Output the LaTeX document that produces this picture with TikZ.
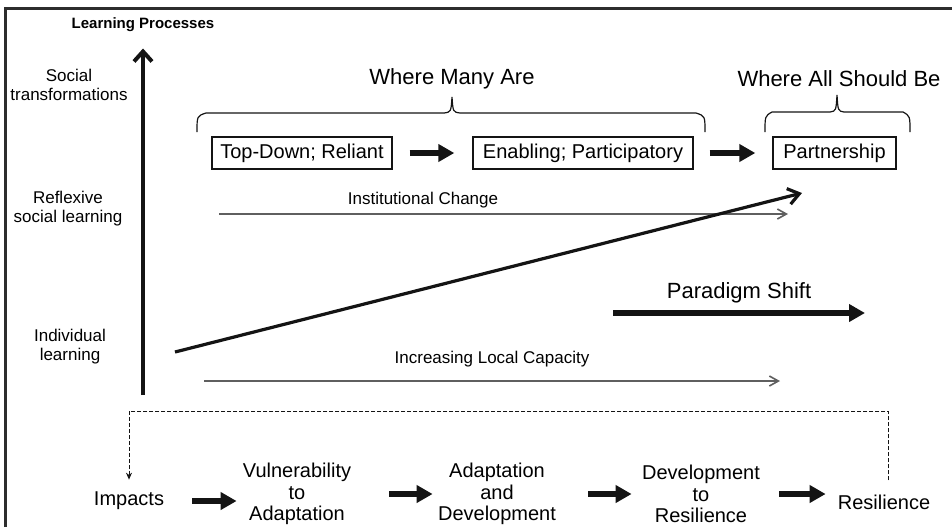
\documentclass[tikz,border=0pt]{standalone}
\usepackage{fontspec}
\setmainfont{Liberation Sans}
\usepackage{tikz}
\usetikzlibrary{positioning,arrows.meta}
\definecolor{ink}{RGB}{20,20,20}
\definecolor{faint}{RGB}{95,95,95}
\definecolor{edge}{RGB}{45,45,45}

\begin{document}
\begin{tikzpicture}[x=0.5pt,y=-0.5pt,
  stagebox/.style={draw=ink,line width=0.7pt,inner sep=0pt,minimum height=16pt,font=\fontsize{10}{12}\selectfont},
  stage/.style={inner sep=0pt,align=center,font=\fontsize{10}{10.75}\selectfont},
  levellabel/.style={align=center,font=\fontsize{8.5}{9.5}\selectfont},
  header/.style={font=\fontsize{11}{13}\selectfont},
  fatarrow/.style={ink,line width=3pt,-{Triangle[length=8pt,width=8.5pt]}},
  trendarrow/.style={faint,line width=0.8pt,-{Straight Barb[length=4.5pt,width=5pt]}},
  feedback/.style={ink,line width=0.5pt,dash pattern=on 2pt off 1pt}]
  \useasboundingbox (0,0) rectangle (952,527);
  \draw[edge,line width=1.5pt] (5,527) -- (5,8) -- (952,8);

  % learning axis
  \node[font=\bfseries\fontsize{7.5}{9}\selectfont] (lp) at (143,25) {Learning Processes};
  \coordinate (axbot) at (143,395);
  \draw[ink,line width=2pt,-{Straight Barb[length=5pt,width=9pt]},shorten >=4.7pt] (axbot) -- (lp);
  \node[levellabel] (social) at (69,85) {Social\\transformations};
  \node[levellabel] (reflex) at (68,209) {Reflexive\\social learning};
  \node[levellabel] (indiv) at (70,347) {Individual\\learning};

  % where many / all
  \node[header] (many) at (452,79) {Where Many Are};
  \node[header] (all) at (839,79) {Where All Should Be};
  \draw[ink,line width=0.6pt] (197,132) .. controls (197,116) .. (206,113) -- (444,113)
    .. controls (451,112) .. (452,97) .. controls (453,112) .. (460,113) -- (696,113)
    .. controls (705,116) .. (705,132);
  \draw[ink,line width=0.6pt] (765,132) .. controls (765,116) .. (772,112) -- (830,112)
    .. controls (836,111) .. (837,95) .. controls (838,111) .. (844,112) -- (903,112)
    .. controls (910,116) .. (910,132);

  \node[stagebox,minimum width=90pt] (topdown) at (302,153) {Top-Down; Reliant};
  \node[stagebox,minimum width=110pt] (enabling) at (583,153) {Enabling; Participatory};
  \node[stagebox,minimum width=61.5pt] (partner) at (834.5,153) {Partnership};
  \draw[fatarrow,shorten <=8.5pt,shorten >=9pt] (topdown) -- (enabling);
  \draw[fatarrow,shorten <=8pt,shorten >=8.5pt] (enabling) -- (partner);

  % trends
  \node[levellabel] (inst) at (423,200) {Institutional Change};
  \coordinate (inst0) at (219,214);
  \coordinate (inst1) at (788,214);
  \draw[trendarrow] (inst0) -- (inst1);
  \coordinate (diag0) at (175,352);
  \coordinate (diag1) at (802,193);
  \draw[ink,line width=1.6pt,-{Straight Barb[length=5.5pt,width=8pt]}] (diag0) -- (diag1);
  \node[header] (shift) at (739,293) {Paradigm Shift};
  \coordinate (shift0) at (613,313);
  \coordinate (shift1) at (865,313);
  \draw[fatarrow] (shift0) -- (shift1);
  \node[levellabel] (local) at (492,359) {Increasing Local Capacity};
  \coordinate (local0) at (204,381);
  \coordinate (local1) at (780,381);
  \draw[trendarrow] (local0) -- (local1);

  % bottom chain
  \node[stage,minimum width=63pt] (impacts) at (129,501) {Impacts};
  \node[stage,minimum width=60pt] (vuln) at (297,494) {Vulnerability\\to\\Adaptation};
  \node[stage,minimum width=64pt] (adapt) at (497,494) {Adaptation\\and\\Development};
  \node[stage,minimum width=69pt] (devres) at (701,494) {Development\\to\\Resilience};
  \node[stage,minimum width=58pt] (resil) at (884,502) {Resilience};
  \draw[fatarrow] (impacts.east) -- (impacts.east -| vuln.west);
  \draw[fatarrow,shorten <=16pt] (vuln.east) -- (vuln.east -| adapt.west);
  \draw[fatarrow,shorten <=13.5pt] (adapt.east) -- (adapt.east -| devres.west);
  \draw[fatarrow,shorten <=4.5pt] (devres.east) -- (devres.east -| resil.west);
  \coordinate (loopy) at (500,411);
  \draw[feedback,-{Stealth[length=3.5pt,width=3pt]},shorten <=7pt,shorten >=6pt]
    ([xshift=2pt]resil.north) |- (loopy) -| (impacts.north);
\end{tikzpicture}
\end{document}
